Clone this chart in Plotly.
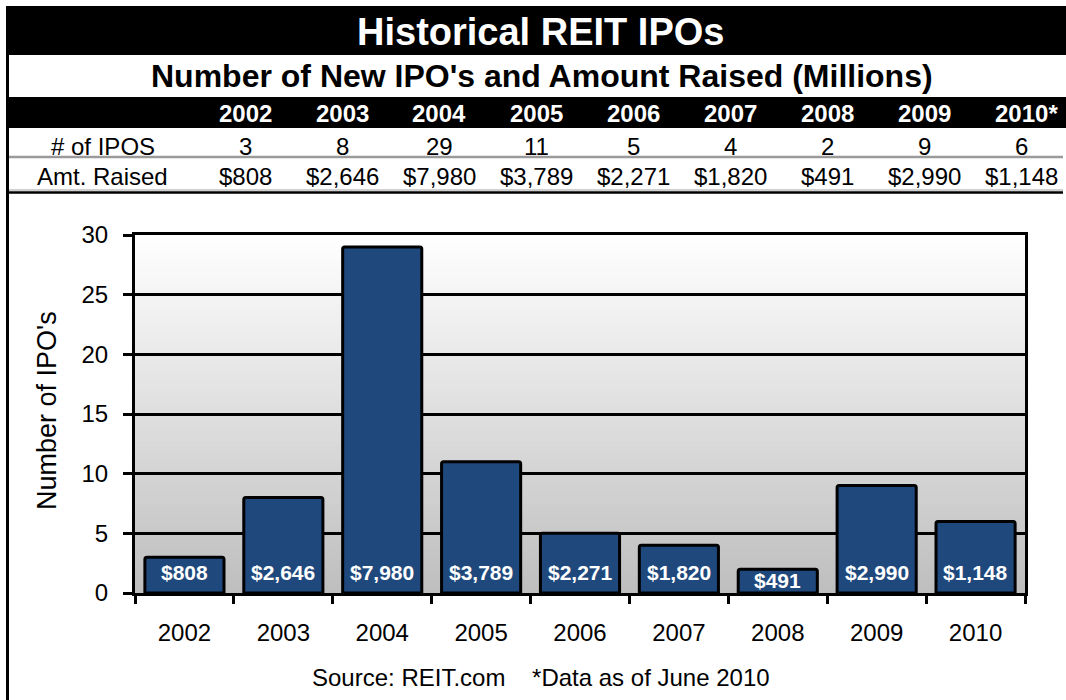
import plotly.graph_objects as go

# ---- data ----
years = ["2002", "2003", "2004", "2005", "2006", "2007", "2008", "2009", "2010"]
header_years = ["2002", "2003", "2004", "2005", "2006", "2007", "2008", "2009", "2010*"]
num_ipos = [3, 8, 29, 11, 5, 4, 2, 9, 6]
amt_raised = [808, 2646, 7980, 3789, 2271, 1820, 491, 2990, 1148]
amt_labels = ["$" + format(v, ",") for v in amt_raised]

# ---- geometry (pixels) ----
W, H = 1066, 700
PL, PR, PT, PB = 135, 1025, 235, 593  # plot area edges
Y_MAX = 30
FONT = "Arial, Liberation Sans, sans-serif"
BAR_COLOR = "#1F497D"


def px(x):
    return (x - PL) / (PR - PL)


def py(y):
    return (PB - y) / (PB - PT)


fig = go.Figure()
fig.add_trace(go.Bar(
    x=years, y=num_ipos,
    marker=dict(color=BAR_COLOR, line=dict(color="black", width=3), cornerradius=2),
    hoverinfo="skip",
))

shapes = []
# vertical gradient behind the plot area (white at top to grey at the base)
n = 120
top_rgb, bot_rgb = (255, 255, 255), (190, 190, 190)
for i in range(n):
    t = (i + 0.5) / n
    c = tuple(round(bot_rgb[k] + (top_rgb[k] - bot_rgb[k]) * t) for k in range(3))
    shapes.append(dict(type="rect", xref="x domain", yref="y domain",
                       x0=0, x1=1, y0=i / n, y1=(i + 1) / n + 0.002,
                       fillcolor="rgb(%d,%d,%d)" % c, line=dict(width=0), layer="below"))


# header table: title band, year band, rules and left border
def rect(x0, y0, x1, y1, color):
    shapes.append(dict(type="rect", xref="paper", yref="paper",
                       x0=px(x0), x1=px(x1), y0=py(y1), y1=py(y0),
                       fillcolor=color, line=dict(width=0), layer="above"))


def hline(x0, x1, y, color, width):
    shapes.append(dict(type="line", xref="paper", yref="paper",
                       x0=px(x0), x1=px(x1), y0=py(y), y1=py(y),
                       line=dict(color=color, width=width), layer="above"))


rect(6, 6, W, 55, "black")
rect(6, 97, W, 128, "black")
rect(6, 6, 9, H, "black")
hline(9, 1063, 157, "#9a9a9a", 2.5)
hline(9, 1063, 190, "#a0a0a0", 1)
hline(9, 1063, 192.5, "black", 2.5)

annotations = []


def label(x, y, text, size, color="black", bold=False, angle=0):
    annotations.append(dict(
        xref="paper", yref="paper", x=px(x), y=py(y), text=text, showarrow=False,
        xanchor="center", yanchor="middle", textangle=angle,
        font=dict(family=FONT, size=size, color=color, weight="bold" if bold else "normal"),
    ))


label(540, 32, "Historical REIT IPOs", 38, "white", True)
label(542, 76, "Number of New IPO's and Amount Raised (Millions)", 32, "black", True)
label(103, 146, "# of IPOS", 24)
label(102, 176, "Amt. Raised", 24)
for i, yr in enumerate(header_years):
    cx = 245 + 97.1 * i
    label(cx + (5 if yr.endswith("*") else 0), 113, yr, 24, "white", True)
    label(cx, 146, str(num_ipos[i]), 24)
    label(cx, 176, amt_labels[i], 24)

label(47, 411, "Number of IPO's", 27, angle=-90)
label(541, 677, "Source: REIT.com\u00a0\u00a0\u00a0\u00a0*Data as of June 2010", 24)

# amount-raised labels sitting near the base of each bar (category index on x)
unit_px = (PB - PT) / Y_MAX
for idx, (v, txt) in enumerate(zip(num_ipos, amt_labels)):
    annotations.append(dict(
        x=idx, y=0, xref="x", yref="y", text=txt, showarrow=False,
        yanchor="middle", yshift=min(21, v * unit_px - 11),
        font=dict(family=FONT, size=21, color="white", weight="bold"),
    ))

fig.update_layout(
    width=W, height=H,
    margin=dict(l=PL, r=W - PR, t=PT, b=H - PB, autoexpand=False),
    paper_bgcolor="white", plot_bgcolor="white",
    bargap=0.2, showlegend=False,
    shapes=shapes, annotations=annotations,
    font=dict(family=FONT, color="black"),
)
fig.update_xaxes(
    type="category", categoryorder="array", categoryarray=years,
    range=[-0.5, len(years) - 0.5],
    tickson="boundaries", ticks="outside", ticklen=8, tickwidth=3,
    tickcolor="black", showline=True, linecolor="black", linewidth=3, mirror=True,
    showgrid=False, tickfont=dict(size=24, family=FONT), ticklabelstandoff=16,
)
fig.update_yaxes(
    range=[0, Y_MAX], dtick=5, ticks="outside", ticklen=9, tickwidth=3, tickcolor="black",
    showline=True, linecolor="black", linewidth=3, mirror=True,
    showgrid=True, gridcolor="black", gridwidth=3, zeroline=False,
    tickfont=dict(size=24, family=FONT), ticklabelstandoff=10,
)

fig.write_html("out.html")
